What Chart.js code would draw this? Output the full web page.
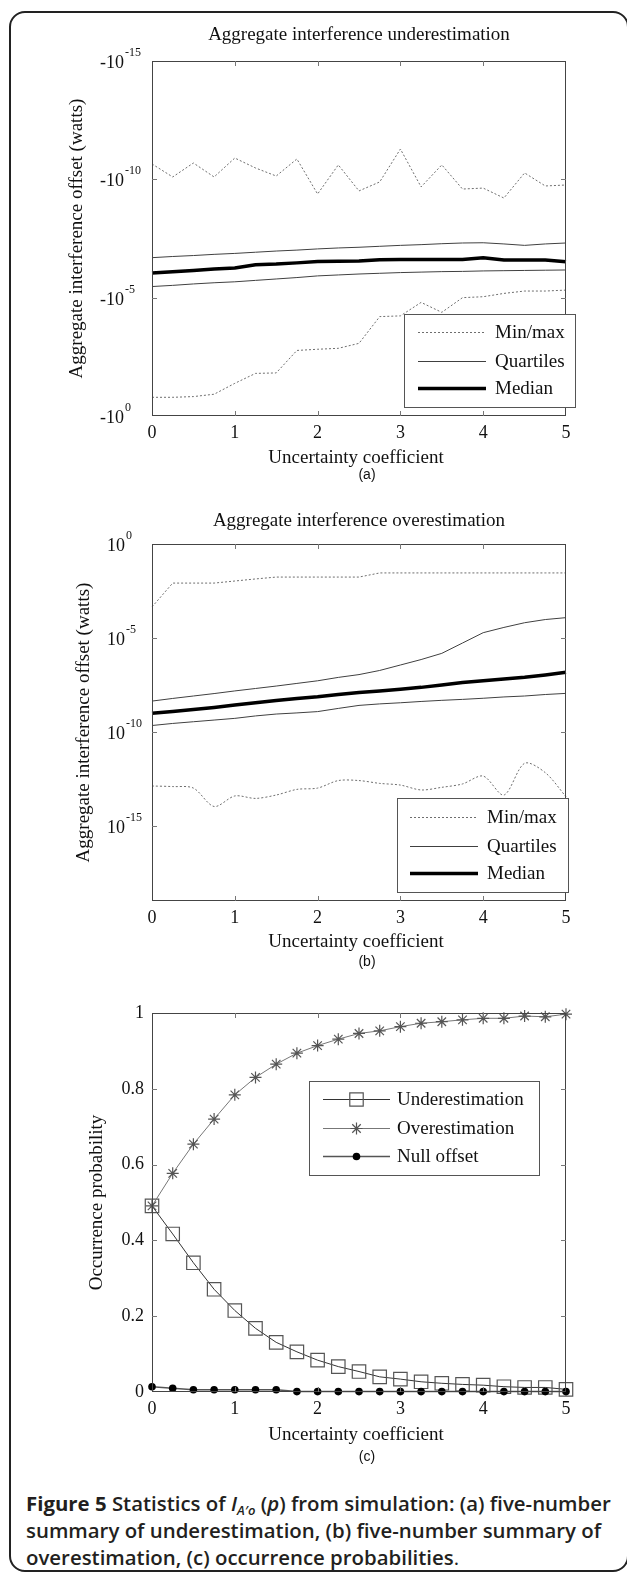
<!DOCTYPE html>
<html>
<head>
<meta charset="utf-8">
<script src="https://cdn.jsdelivr.net/npm/chart.js@4.4.1/dist/chart.umd.min.js"></script>
<style>
  html, body { margin: 0; padding: 0; background: #fff; }
  #page { position: relative; width: 627px; height: 1575px; overflow: hidden; }
  #frame { position: absolute; left: 9px; top: 11px; width: 620px; height: 1561px; box-sizing: border-box;
           border: 2px solid #222; border-radius: 16px; }
  canvas { position: absolute; left: 0; }
  #caption { position: absolute; left: 26px; top: 1490px; white-space: nowrap; color: #231f20;
             font-family: 'Open Sans', 'Noto Sans', sans-serif; font-size: 20.4px; line-height: 27px; font-weight: 600; }
  #caption b { font-weight: 700; }
  #caption sub { font-size: 13px; line-height: 0; vertical-align: -4px; }
  #caption .dot { font-weight: 400; }
</style>
</head>
<body>
<div id="page">
  <div id="frame"></div>
  <canvas id="chartA" width="627" height="490" style="top:0px"></canvas>
  <canvas id="chartB" width="627" height="480" style="top:490px"></canvas>
  <canvas id="chartC" width="627" height="500" style="top:970px"></canvas>
  <div id="caption"><b>Figure 5</b> Statistics of <i>I</i><sub><i>A′o</i></sub> (<i>p</i>) from simulation: (a) five-number<br>summary of underestimation, (b) five-number summary of<br>overestimation, (c) occurrence probabilities<span class="dot">.</span></div>
</div>
<script>
// uncertainty coefficient
const xs = [0, 0.25, 0.5, 0.75, 1, 1.25, 1.5, 1.75, 2, 2.25, 2.5, 2.75, 3, 3.25, 3.5, 3.75, 4, 4.25, 4.5, 4.75, 5];
const xTicks = [0, 1, 2, 3, 4, 5];

// (a) underestimation, log10 of |offset| (offset = -10^v watts)
const underMax    = [-10.65, -10.10, -10.69, -10.10, -10.90, -10.48, -10.14, -10.86, -9.38, -10.61, -9.51, -9.89, -11.28, -9.68, -10.61, -9.59, -9.63, -9.21, -10.27, -9.72, -9.76];
const underQ3     = [-6.69, -6.74, -6.78, -6.83, -6.87, -6.92, -6.97, -7.01, -7.06, -7.10, -7.13, -7.17, -7.21, -7.24, -7.28, -7.31, -7.32, -7.27, -7.21, -7.27, -7.31];
const underMedian = [-6.04, -6.10, -6.15, -6.21, -6.25, -6.39, -6.42, -6.47, -6.53, -6.54, -6.55, -6.60, -6.61, -6.61, -6.61, -6.61, -6.69, -6.59, -6.59, -6.59, -6.52];
const underQ1     = [-5.47, -5.52, -5.58, -5.63, -5.67, -5.73, -5.79, -5.85, -5.92, -5.96, -6.00, -6.03, -6.06, -6.08, -6.10, -6.11, -6.13, -6.14, -6.15, -6.16, -6.17];
const underMin    = [-0.79, -0.79, -0.82, -0.92, -1.38, -1.80, -1.82, -2.77, -2.82, -2.86, -3.07, -4.20, -4.23, -4.80, -4.38, -5.00, -5.04, -5.18, -5.28, -5.28, -5.32];
const underTicks  = [-15, -10, -5, 0];

// (b) overestimation, log10 of offset (watts)
const overMax    = [-3.35, -2.08, -2.08, -2.08, -1.97, -1.86, -1.76, -1.76, -1.76, -1.76, -1.76, -1.54, -1.54, -1.54, -1.54, -1.54, -1.54, -1.54, -1.54, -1.54, -1.54];
const overQ3     = [-8.36, -8.22, -8.09, -7.96, -7.82, -7.69, -7.56, -7.42, -7.28, -7.10, -6.95, -6.73, -6.44, -6.15, -5.82, -5.27, -4.72, -4.44, -4.19, -4.02, -3.92];
const overMedian = [-9.01, -8.91, -8.81, -8.70, -8.57, -8.45, -8.33, -8.22, -8.13, -8.01, -7.90, -7.82, -7.73, -7.63, -7.50, -7.37, -7.28, -7.18, -7.09, -6.97, -6.83];
const overQ1     = [-9.66, -9.55, -9.46, -9.37, -9.28, -9.15, -9.05, -8.99, -8.92, -8.75, -8.59, -8.51, -8.45, -8.38, -8.32, -8.27, -8.21, -8.14, -8.09, -8.01, -7.95];
const overMin    = [-12.88, -12.91, -12.99, -13.97, -13.41, -13.54, -13.36, -13.06, -12.99, -12.59, -12.59, -12.74, -12.83, -13.09, -12.95, -12.77, -12.35, -13.36, -11.67, -12.17, -13.45];
const overTicks  = [0, -5, -10, -15];

// (c) occurrence probabilities
const pUnder = [0.491, 0.417, 0.341, 0.271, 0.215, 0.168, 0.131, 0.106, 0.084, 0.067, 0.054, 0.040, 0.034, 0.027, 0.023, 0.020, 0.018, 0.014, 0.012, 0.012, 0.007];
const pOver  = [0.491, 0.577, 0.654, 0.720, 0.784, 0.830, 0.865, 0.894, 0.914, 0.931, 0.946, 0.953, 0.964, 0.973, 0.977, 0.982, 0.986, 0.986, 0.992, 0.990, 0.997];
const pNull  = [0.014, 0.010, 0.006, 0.006, 0.006, 0.006, 0.006, 0.001, 0.001, 0.001, 0.001, 0.001, 0.001, 0.001, 0.001, 0.001, 0.001, 0.001, 0.001, 0.001, 0.001];
const probTicks = [0, 0.2, 0.4, 0.6, 0.8, 1];

const serif = "'Liberation Serif', 'Times New Roman', serif";
const sans = "'Liberation Sans', Arial, sans-serif";

const styles = {
  minmax: { borderColor: '#6e6e6e', borderWidth: 1, borderDash: [2, 2] },
  quart:  { borderColor: '#404040', borderWidth: 1 },
  median: { borderColor: '#000', borderWidth: 3.5 }
};

function line(values, style, extra) {
  return Object.assign({
    data: xs.map((x, i) => ({ x: x, y: values[i] })),
    pointRadius: 0, fill: false, tension: 0, clip: false
  }, style, extra);
}

function drawMarker(ctx, style, r, x, y) {
  ctx.beginPath();
  if (style === 'rect') {
    const s = r * Math.SQRT1_2;
    ctx.rect(x - s, y - s, 2 * s, 2 * s);
    ctx.stroke();
  } else if (style === 'star') {
    const d = r * Math.SQRT1_2;
    ctx.moveTo(x - r, y); ctx.lineTo(x + r, y);
    ctx.moveTo(x, y - r); ctx.lineTo(x, y + r);
    ctx.moveTo(x - d, y - d); ctx.lineTo(x + d, y + d);
    ctx.moveTo(x - d, y + d); ctx.lineTo(x + d, y - d);
    ctx.stroke();
  } else {
    ctx.arc(x, y, r, 0, Math.PI * 2);
    ctx.fill();
  }
}

// matlab style box, inner ticks, texts and legend
const matlabAxes = {
  id: 'matlabAxes',
  afterDatasetsDraw(chart, args, o) {
    const { ctx, chartArea: a, scales: { x, y } } = chart;
    ctx.save();
    ctx.strokeStyle = '#444';
    ctx.lineWidth = 1;
    ctx.strokeRect(Math.round(a.left) + 0.5, Math.round(a.top) + 0.5, Math.round(a.right - a.left) - 1, Math.round(a.bottom - a.top) - 1);

    ctx.strokeStyle = '#777';
    ctx.beginPath();
    x.ticks.forEach(t => {
      const px = Math.round(x.getPixelForValue(t.value)) + 0.5;
      if (px - a.left < 2 || a.right - px < 2) return;
      ctx.moveTo(px, a.bottom); ctx.lineTo(px, a.bottom - 5);
      ctx.moveTo(px, a.top); ctx.lineTo(px, a.top + 5);
    });
    y.ticks.forEach(t => {
      const py = Math.round(y.getPixelForValue(t.value)) + 0.5;
      if (py - a.top < 2 || a.bottom - py < 2) return;
      ctx.moveTo(a.left, py); ctx.lineTo(a.left + 5, py);
      ctx.moveTo(a.right, py); ctx.lineTo(a.right - 5, py);
    });
    ctx.stroke();

    ctx.fillStyle = '#111';
    if (o.exp) {
      y.ticks.forEach(t => {
        const py = y.getPixelForValue(t.value);
        ctx.textAlign = 'left';
        ctx.textBaseline = 'alphabetic';
        ctx.font = '18px ' + serif;
        ctx.fillText(o.exp.base, o.exp.x, py + 7);
        const w = ctx.measureText(o.exp.base).width;
        ctx.font = '12px ' + serif;
        ctx.fillText(String(o.exp.of(t.value)), o.exp.x + w + 1, py - 5);
      });
    }

    const cx = (a.left + a.right) / 2;
    ctx.textAlign = 'center';
    ctx.textBaseline = 'alphabetic';
    ctx.font = '19px ' + serif;
    if (o.title) ctx.fillText(o.title, cx, o.titleY);
    ctx.fillText('Uncertainty coefficient', cx - 3, o.xTitleY);
    ctx.save();
    ctx.translate(o.yTitleX, (a.top + a.bottom) / 2);
    ctx.rotate(-Math.PI / 2);
    ctx.textBaseline = 'middle';
    ctx.fillText(o.yTitle, 0, 0);
    ctx.restore();
    ctx.font = '14px ' + sans;
    ctx.fillText(o.sub, 367, o.subY);

    const L = o.legend;
    ctx.fillStyle = '#fff';
    ctx.fillRect(L.box[0], L.box[1], L.box[2] - L.box[0], L.box[3] - L.box[1]);
    ctx.strokeStyle = '#555';
    ctx.lineWidth = 1;
    ctx.strokeRect(L.box[0] + 0.5, L.box[1] + 0.5, L.box[2] - L.box[0], L.box[3] - L.box[1]);
    L.rows.forEach(r => {
      const d = chart.data.datasets[r.ds];
      ctx.strokeStyle = d.borderColor;
      ctx.lineWidth = d.borderWidth;
      ctx.setLineDash(d.borderDash || []);
      ctx.beginPath();
      ctx.moveTo(L.line[0], r.y + 0.5); ctx.lineTo(L.line[1], r.y + 0.5);
      ctx.stroke();
      ctx.setLineDash([]);
      if (d.pointRadius > 0) {
        ctx.strokeStyle = d.pointBorderColor;
        ctx.fillStyle = d.pointBackgroundColor;
        ctx.lineWidth = d.pointBorderWidth;
        drawMarker(ctx, d.pointStyle, d.pointRadius, (L.line[0] + L.line[1]) / 2, r.y + 0.5);
      }
      ctx.fillStyle = '#111';
      ctx.font = '19px ' + serif;
      ctx.textAlign = 'left';
      ctx.textBaseline = 'middle';
      ctx.fillText(r.label, L.textX, r.y + 1);
    });
    ctx.restore();
  }
};

function xScale(h) {
  return {
    type: 'linear', min: 0, max: 5,
    afterBuildTicks: s => { s.ticks = xTicks.map(v => ({ value: v })); },
    afterFit: s => { s.height = h; },
    grid: { display: false, drawTicks: false },
    border: { display: false },
    ticks: { padding: 6, color: '#111', font: { family: serif, size: 18 }, maxRotation: 0, autoSkip: false }
  };
}

function options(padTop, scales, plug) {
  return {
    responsive: false, animation: false, devicePixelRatio: 1, events: [],
    layout: { padding: { top: padTop, right: 61, bottom: 0, left: 0 } },
    scales: scales,
    plugins: { legend: { display: false }, tooltip: { enabled: false }, matlabAxes: plug }
  };
}

const yBare = { grid: { display: false, drawTicks: false }, border: { display: false }, ticks: { display: false }, afterFit: s => { s.width = 152; } };

new Chart(document.getElementById('chartA'), {
  type: 'line',
  data: { datasets: [
    line(underMax, styles.minmax), line(underMin, styles.minmax),
    line(underQ3, styles.quart), line(underQ1, styles.quart),
    line(underMedian, styles.median)
  ] },
  options: options(61, {
    x: xScale(74),
    y: Object.assign({ type: 'linear', min: -15, max: 0, reverse: true,
      afterBuildTicks: s => { s.ticks = underTicks.map(v => ({ value: v })); } }, yBare)
  }, {
    title: 'Aggregate interference underestimation', titleY: 40,
    xTitleY: 463, yTitle: 'Aggregate interference offset (watts)', yTitleX: 77,
    sub: '(a)', subY: 479,
    exp: { x: 100, base: '-10', of: v => v },
    legend: { box: [404, 314, 575, 407], line: [418, 486], textX: 495,
      rows: [{ ds: 0, y: 332, label: 'Min/max' }, { ds: 2, y: 361, label: 'Quartiles' }, { ds: 4, y: 388, label: 'Median' }] }
  }),
  plugins: [matlabAxes]
});

const pow = arr => arr.map(v => Math.pow(10, v));

new Chart(document.getElementById('chartB'), {
  type: 'line',
  data: { datasets: [
    line(pow(overMax), styles.minmax), line(pow(overMin), styles.minmax, { tension: 0.3 }),
    line(pow(overQ3), styles.quart), line(pow(overQ1), styles.quart),
    line(pow(overMedian), styles.median)
  ] },
  options: options(54, {
    x: xScale(69),
    y: Object.assign({ type: 'logarithmic', min: 1e-19, max: 1,
      afterBuildTicks: s => { s.ticks = overTicks.map(e => ({ value: Math.pow(10, e) })); } }, yBare)
  }, {
    title: 'Aggregate interference overestimation', titleY: 36,
    xTitleY: 457, yTitle: 'Aggregate interference offset (watts)', yTitleX: 84,
    sub: '(b)', subY: 476,
    exp: { x: 107, base: '10', of: v => Math.round(Math.log10(v)) },
    legend: { box: [397, 308, 568, 402], line: [410, 478], textX: 487,
      rows: [{ ds: 0, y: 327, label: 'Min/max' }, { ds: 2, y: 356, label: 'Quartiles' }, { ds: 4, y: 383, label: 'Median' }] }
  }),
  plugins: [matlabAxes]
});

new Chart(document.getElementById('chartC'), {
  type: 'line',
  data: { datasets: [
    line(pUnder, { borderColor: '#333', borderWidth: 1, pointStyle: 'rect', pointRadius: 9.5,
      pointBorderColor: '#555', pointBackgroundColor: 'rgba(0,0,0,0)', pointBorderWidth: 1.2, order: 3 }),
    line(pOver, { borderColor: '#777', borderWidth: 1, pointStyle: 'star', pointRadius: 6,
      pointBorderColor: '#555', pointBackgroundColor: 'rgba(0,0,0,0)', pointBorderWidth: 1.2, order: 2 }),
    line(pNull, { borderColor: '#555', borderWidth: 1.5, pointStyle: 'circle', pointRadius: 3.8,
      pointBorderColor: '#000', pointBackgroundColor: '#000', pointBorderWidth: 0, order: 1 })
  ] },
  options: options(43, {
    x: xScale(78),
    y: { type: 'linear', min: 0, max: 1,
      afterBuildTicks: s => { s.ticks = probTicks.map(v => ({ value: v })); },
      afterFit: s => { s.width = 152; },
      grid: { display: false, drawTicks: false }, border: { display: false },
      ticks: { padding: 8, color: '#111', font: { family: serif, size: 18 }, callback: v => String(+v.toFixed(1)) } }
  }, {
    xTitleY: 470, yTitle: 'Occurrence probability', yTitleX: 97,
    sub: '(c)', subY: 491,
    legend: { box: [309, 111, 539, 205], line: [323, 390], textX: 397,
      rows: [{ ds: 0, y: 129, label: 'Underestimation' }, { ds: 1, y: 158, label: 'Overestimation' }, { ds: 2, y: 186, label: 'Null offset' }] }
  }),
  plugins: [matlabAxes]
});
</script>
</body>
</html>
